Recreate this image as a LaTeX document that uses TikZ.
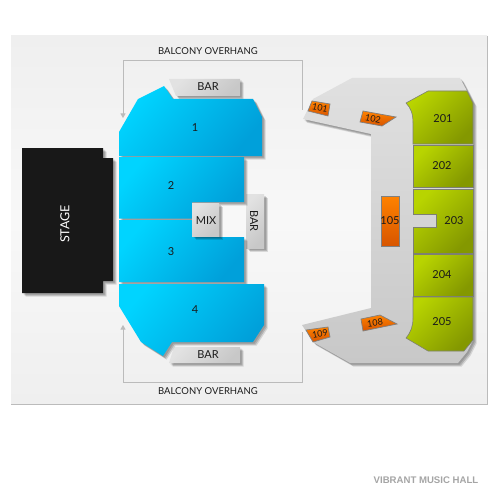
\documentclass[tikz,border=0pt]{standalone}
\usepackage{fontspec}
\setmainfont{Lato}
\newfontfamily\brandfont{Liberation Sans}
\usetikzlibrary{arrows.meta}
\definecolor{linegray}{HTML}{BBBBBB}
\definecolor{txt}{HTML}{1A1A1A}
\tikzset{
  softshadow/.style={
    preaction={fill=black,opacity=.13,transform canvas={xshift=1.5pt,yshift=-1.5pt}},
    preaction={fill=black,opacity=.16,transform canvas={xshift=2.6pt,yshift=-2.6pt}},
    preaction={fill=black,opacity=.12,transform canvas={xshift=3.6pt,yshift=-3.6pt}}},
  bluesec/.style={softshadow,shading=axis,top color={rgb,255:red,0;green,212;blue,255},bottom color={rgb,255:red,0;green,160;blue,218},shading angle=50},
  greensec/.style={draw={rgb,255:red,125;green,128;blue,115},line width=.6pt,shading=axis,top color={rgb,255:red,184;green,212;blue,0},bottom color={rgb,255:red,132;green,152;blue,0},shading angle=45},
  orangesec/.style={draw=gray,line width=.7pt,shading=axis,top color={rgb,255:red,255;green,130;blue,0},bottom color={rgb,255:red,215;green,85;blue,0}},
  graybox/.style={softshadow,shading=axis,top color={rgb,255:red,226;green,226;blue,226},bottom color={rgb,255:red,200;green,200;blue,200},shading angle=45},
  concourse/.style={softshadow,shading=axis,top color={rgb,255:red,224;green,224;blue,224},bottom color={rgb,255:red,200;green,200;blue,200}},
  stageshape/.style={softshadow,fill={rgb,255:red,24;green,24;blue,24}},
  overhang/.style={draw=linegray,line width=.8pt},
  overarrow/.style={overhang,-{Triangle[length=4.5pt,width=5pt]}},
  lab/.style={text=txt,font=\fontsize{11}{11}\selectfont,inner sep=0pt},
  smalllab/.style={text=txt,font=\fontsize{9}{9}\selectfont,inner sep=0pt},
  caplab/.style={text=txt,font=\fontsize{9.5}{10}\selectfont,inner sep=0pt}
}
\begin{document}
\begin{tikzpicture}[x=1pt,y=-1pt]
\useasboundingbox (0,0) rectangle (500,500);
\fill[white] (0,0) rectangle (500,500);
% panel
\path[shading=axis,top color={rgb,255:red,239;green,239;blue,239},bottom color={rgb,255:red,239;green,239;blue,239},middle color={rgb,255:red,248;green,248;blue,248}] (11,36) rectangle (487,404);
\draw[linegray,line width=.8pt] (11,404) -- (487,404) -- (487,36);
% overhang lines
\coordinate (ta) at (123,118); \coordinate (tb) at (123,60); \coordinate (tc) at (302,60); \coordinate (td) at (302,110);
\coordinate (ba) at (123,325); \coordinate (bb) at (123,382); \coordinate (bc) at (302,382); \coordinate (bd) at (302,332);
\draw[overarrow] (td) -- (tc) -- (tb) -- (ta);
\draw[overarrow] (bd) -- (bc) -- (bb) -- (ba);
% stage
\path[stageshape] (22,148) -- (103,148) -- (103,158) -- (113,158) -- (113,281) -- (103,281) -- (103,293) -- (22,293) -- cycle;
% bars and mix
\path[graybox] (169,79) -- (240,79) -- (240,96) -- (176,96) -- cycle;
\path[graybox] (174,347) -- (240,347) -- (240,363) -- (169,363) -- cycle;
\path[graybox] (246,194) rectangle (264,248);
% blue sections
\path[bluesec] (119,132) -- (138,99) -- (164,86) -- (173,99) -- (253,99) -- (262,117) -- (262,156) -- (119,156) -- cycle;
\path[bluesec] (119,157) -- (244,157) -- (244,202) -- (192,202) -- (192,218.5) -- (119,218.5) -- cycle;
\path[bluesec] (119,220) -- (192,220) -- (192,237) -- (244,237) -- (244,282) -- (119,282) -- cycle;
\path[bluesec] (119,284) -- (264,284) -- (264,325) -- (253,342) -- (172,342) -- (163,356) -- (141,342) -- (119,306) -- cycle;
\path[graybox] (192,203) rectangle (219,236);
% concourse
\path[concourse] (303,119) -- (313,99) -- (352,78) -- (460,78) -- (467,91) -- (473,103) -- (473,340) -- (467,352) -- (458,363) -- (350,363) -- (313,342) -- (302,325) -- (371,308) -- (371,134) -- cycle;
% green sections
\path[greensec] (406,103) -- (428,91) -- (467,91) -- (473,103) -- (473,144) -- (413,144) -- (413,123) .. controls (413,114) and (411,108) .. (406,103) -- cycle;
\path[greensec] (413,145) rectangle (473,187);
\path[greensec] (413,189) -- (473,189) -- (473,253) -- (413,253) -- (413,227) -- (436,227) -- (436,214) -- (413,214) -- cycle;
\path[greensec] (413,254) rectangle (473,296);
\path[greensec] (413,297) -- (473,297) -- (473,340) -- (464,351) -- (428,351) -- (406,338) .. controls (411,332) and (413,326) .. (413,318) -- cycle;
% orange sections
\path[orangesec] (381,196) rectangle (399,246);
\path[orangesec] (312,101) -- (330,104) -- (328,116) -- (308,111) -- cycle;
\path[orangesec] (363,111) -- (396,117) -- (382,126) -- (360,122) -- cycle;
\path[orangesec] (361,319) -- (380,315) -- (397,324) -- (363,331) -- cycle;
\path[orangesec] (306,330) -- (328,327) -- (330,337) -- (313,342) -- cycle;
% labels
\node[caplab] (lt) at (208,51) {BALCONY OVERHANG};
\node[caplab] (lb) at (208,391) {BALCONY OVERHANG};
\node[lab] (b1) at (208,87) {BAR};
\node[lab] (b2) at (208,355) {BAR};
\node[lab,rotate=-90] (b3) at (254,221) {BAR};
\node[lab] (mix) at (206,221) {MIX};
\node[text=white,inner sep=0pt,font=\fontsize{12.5}{13}\selectfont,rotate=90] (stage) at (65,224) {STAGE};
\node[lab] (s1) at (195,128) {1};
\node[lab] (s2) at (171,186) {2};
\node[lab] (s3) at (171,252) {3};
\node[lab] (s4) at (195,310) {4};
\node[lab] (s201) at (443,119) {201};
\node[lab] (s202) at (442,166) {202};
\node[lab] (s203) at (454,221) {203};
\node[lab] (s204) at (442,275) {204};
\node[lab] (s205) at (442,322) {205};
\node[lab] (s105) at (390,221) {105};
\node[smalllab,rotate=-12] (s101) at (320,108) {101};
\node[smalllab,rotate=-12] (s102) at (373,119) {102};
\node[smalllab,rotate=8] (s108) at (375,323) {108};
\node[smalllab,rotate=10] (s109) at (320,334) {109};
\node[inner sep=0pt,text={rgb,255:red,165;green,165;blue,165},font=\brandfont\bfseries\fontsize{9.6}{10}\selectfont] (brand) at (426,480) {VIBRANT MUSIC HALL};
\end{tikzpicture}
\end{document}
